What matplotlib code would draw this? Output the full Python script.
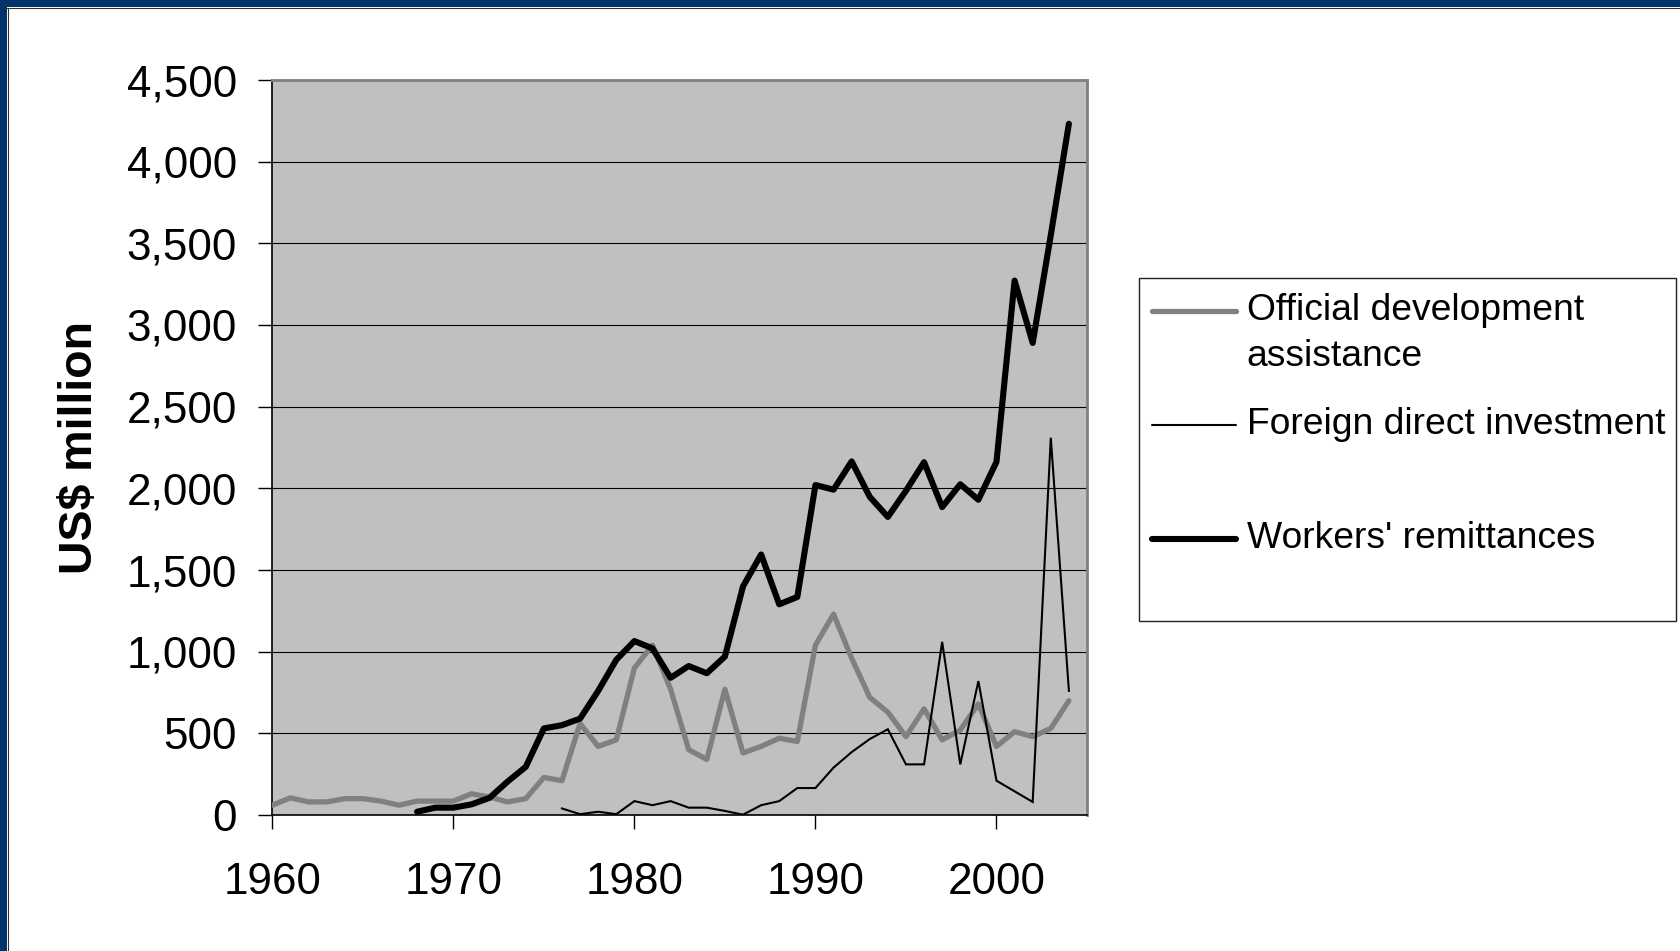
import matplotlib
matplotlib.use("Agg")
import matplotlib.pyplot as plt
from matplotlib.lines import Line2D
from matplotlib.patches import Rectangle
from matplotlib.ticker import FuncFormatter, MultipleLocator

plt.rcParams['font.family'] = ['Liberation Sans', 'DejaVu Sans']

# ---- data (US$ million) ----
oda_years = list(range(1960, 2005))
oda_values = [60, 105, 80, 80, 100, 100, 85, 60, 85, 85,
              85, 130, 110, 80, 100, 230, 210, 560, 420, 460,
              900, 1040, 770, 400, 340, 770, 380, 420, 470, 450,
              1040, 1230, 960, 720, 630, 480, 650, 460, 520, 680,
              420, 510, 480, 530, 700]

fdi_years = list(range(1976, 2005))
fdi_values = [40, 5, 20, 5, 85, 60, 85, 45, 45, 25,
              2, 60, 85, 165, 165, 290, 385, 465, 525, 310,
              310, 1060, 310, 820, 210, 145, 80, 2310, 760]

rem_years = list(range(1968, 2005))
rem_values = [20, 45, 45, 65, 105, 205, 295, 530, 550, 590,
              760, 950, 1065, 1020, 840, 912, 868, 970, 1400, 1595,
              1290, 1335, 2020, 1992, 2165, 1948, 1825, 1985, 2160, 1885,
              2025, 1930, 2162, 3272, 2890, 3550, 4232]

labels = ["Official development\nassistance",
          "Foreign direct investment",
          "Workers' remittances"]

W, H = 1681, 951
fig = plt.figure(figsize=(W / 100, H / 100), dpi=100)
fig.patch.set_facecolor('white')

# dark blue slide frame along the top and left edges
fig.patches.append(Rectangle((0, 1 - 7 / H), 1, 7 / H, transform=fig.transFigure,
                             facecolor='#033469', edgecolor='none', zorder=0))
fig.patches.append(Rectangle((0, 0), 7.5 / W, 1, transform=fig.transFigure,
                             facecolor='#033469', edgecolor='none', zorder=0))
fig.add_artist(Line2D([7.5 / W, 1], [1 - 7.8 / H, 1 - 7.8 / H], transform=fig.transFigure,
                      color='#333333', lw=0.8))
fig.add_artist(Line2D([8.2 / W, 8.2 / W], [0, 1 - 7.5 / H], transform=fig.transFigure,
                      color='#333333', lw=0.8))

left, right, bottom, top = 272.3, 1087, 815, 80
ax = fig.add_axes([left / W, 1 - bottom / H, (right - left) / W, (bottom - top) / H])
ax.set_facecolor('#c0c0c0')

oda_color = '#808080'
ax.plot(oda_years, oda_values, color=oda_color, lw=3.8, solid_joinstyle='round',
        solid_capstyle='round', zorder=3)
ax.plot(fdi_years, fdi_values, color='black', lw=1.5, solid_joinstyle='miter', zorder=4)
ax.plot(rem_years, rem_values, color='black', lw=4.4, solid_joinstyle='round',
        solid_capstyle='round', zorder=5)

ax.set_xlim(1960, 2005)
ax.set_ylim(0, 4500)
ax.xaxis.set_major_locator(MultipleLocator(10))
ax.yaxis.set_major_locator(MultipleLocator(500))
ax.yaxis.set_major_formatter(FuncFormatter(lambda v, p: f"{int(v):,}"))

ax.grid(axis='y', color='black', lw=0.8, zorder=1)
ax.set_axisbelow(True)

ax.tick_params(axis='both', direction='out', length=9.8, width=1.0, color='black',
               labelsize=31.7, labelcolor='black')
ax.tick_params(axis='x', pad=24)
ax.tick_params(axis='y', pad=15.5)

for side in ('top', 'right'):
    ax.spines[side].set_color('#808080')
    ax.spines[side].set_linewidth(2.0)
for side in ('left', 'bottom'):
    ax.spines[side].set_color('black')
    ax.spines[side].set_linewidth(1.2)

fig.text(80 / W, 1 - 448 / H, 'US$ million', rotation=90, ha='center', va='center',
         fontsize=33.5, fontweight='bold')

# legend box, drawn in figure pixels
lx0, ly0, lx1, ly1 = 1138.6, 277.7, 1675.7, 620.7
fig.patches.append(Rectangle((lx0 / W, 1 - ly1 / H), (lx1 - lx0) / W, (ly1 - ly0) / H,
                             transform=fig.transFigure, facecolor='white',
                             edgecolor='#222222', lw=1.0, zorder=2))

styles = [dict(color=oda_color, lw=3.8), dict(color='black', lw=1.5),
          dict(color='black', lw=4.4)]
handle_y = [311, 425, 539]
hx0, hx1, tx = 1152.5, 1236, 1246.8
line_gap = 47
for lab, st, hy in zip(labels, styles, handle_y):
    fig.add_artist(Line2D([hx0 / W, hx1 / W], [1 - hy / H, 1 - hy / H],
                          transform=fig.transFigure, solid_capstyle='round', zorder=3, **st))
    for i, part in enumerate(lab.split('\n')):
        fig.text(tx / W, 1 - (hy - 1 + i * line_gap) / H, part, ha='left', va='center',
                 fontsize=26.8, color='black', zorder=3)

fig.savefig('out.png', dpi=100, facecolor='white')
